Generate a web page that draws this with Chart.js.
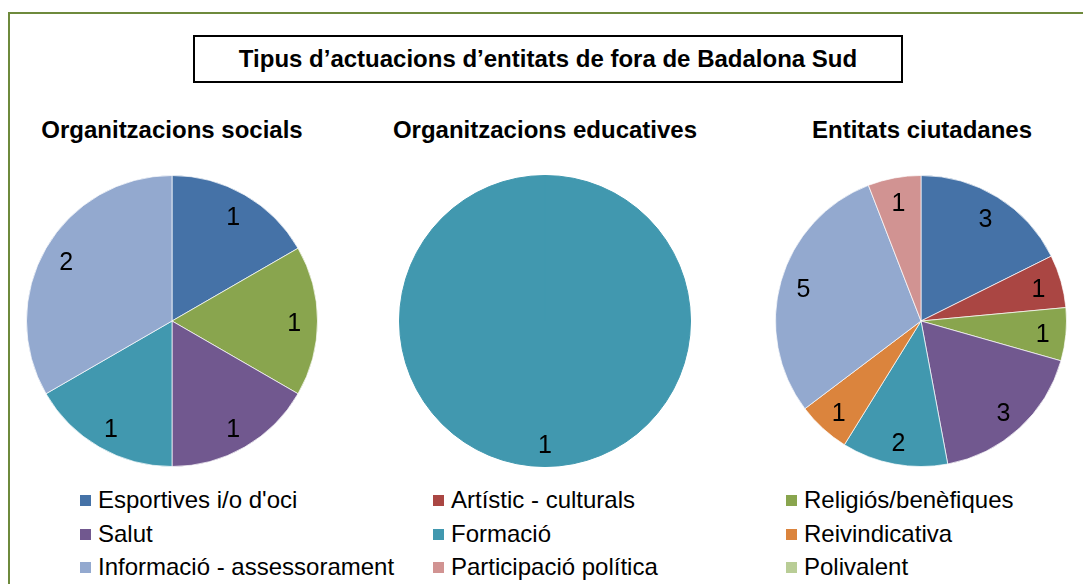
<!DOCTYPE html>
<html lang="ca">
<head>
<meta charset="UTF-8">
<title>Tipus d’actuacions d’entitats de fora de Badalona Sud</title>
<script src="https://cdn.jsdelivr.net/npm/chart.js"></script>
<style>
    body { margin: 0; background: #fff; font-family: "Liberation Sans", Arial, sans-serif; overflow: hidden; }
    #frame { position: absolute; left: 8px; top: 12px; width: 1100px; height: 600px; border: 2px solid #6e8a3c; }
    #title { position: absolute; left: 193px; top: 35px; width: 706px; height: 44px; border: 2px solid #000;
             font-weight: bold; font-size: 24px; text-align: center; line-height: 44px; }
    .sub { position: absolute; top: 115px; width: 400px; font-weight: bold; font-size: 24px; line-height: 30px; text-align: center; }
    .pie { position: absolute; top: 175px; width: 292px; height: 292px; }
    .leg { position: absolute; font-size: 24px; line-height: 28px; white-space: nowrap; }
    .leg span { display: inline-block; width: 11px; height: 11px; margin-right: 7px; vertical-align: 2px; }
</style>
</head>
<body>
<div id="frame"></div>
<div id="title">Tipus d’actuacions d’entitats de fora de Badalona Sud</div>
<div class="sub" style="left:-28px">Organitzacions socials</div>
<div class="sub" style="left:345px">Organitzacions educatives</div>
<div class="sub" style="left:722px">Entitats ciutadanes</div>
<div class="pie" style="left:26px"><canvas id="pie1"></canvas></div>
<div class="pie" style="left:399px"><canvas id="pie2"></canvas></div>
<div class="pie" style="left:775px"><canvas id="pie3"></canvas></div>
<div id="legend"></div>
<script>
    const categories = [
        "Esportives i/o d'oci", 'Artístic - culturals', 'Religiós/benèfiques',
        'Salut', 'Formació', 'Reivindicativa',
        'Informació - assessorament', 'Participació política', 'Polivalent'
    ];
    const colors = ['#4572a7', '#aa4643', '#89a54e', '#71588f', '#4198af', '#db843d', '#93a9cf', '#d19392', '#b9cd96'];

    const socials = [1, 0, 1, 1, 1, 0, 2, 0, 0];
    const educatives = [0, 0, 0, 0, 1, 0, 0, 0, 0];
    const ciutadanes = [3, 1, 1, 3, 2, 1, 5, 1, 0];

    // Value labels placed inside each slice, near the rim
    const sliceLabels = {
        id: 'sliceLabels',
        afterDatasetsDraw(chart) {
            const ctx = chart.ctx;
            const meta = chart.getDatasetMeta(0);
            const values = chart.data.datasets[0].data;
            ctx.save();
            ctx.font = '25px "Liberation Sans", Arial, sans-serif';
            ctx.fillStyle = '#000';
            ctx.textAlign = 'center';
            ctx.textBaseline = 'middle';
            meta.data.forEach((arc, i) => {
                if (!values[i]) return;
                const p = arc.getProps(['x', 'y', 'startAngle', 'endAngle', 'outerRadius'], true);
                const mid = (p.startAngle + p.endAngle) / 2;
                const r = p.outerRadius * 0.84;
                ctx.fillText(values[i], p.x + Math.cos(mid) * r, p.y + Math.sin(mid) * r + 3);
            });
            ctx.restore();
        }
    };

    function makePie(id, values) {
        // a pie with a single slice gets no visible seam
        const slices = values.filter(v => v > 0).length;
        new Chart(document.getElementById(id), {
            type: 'pie',
            data: {
                labels: categories,
                datasets: [{
                    data: values,
                    backgroundColor: colors,
                    borderColor: slices > 1 ? 'rgba(255,255,255,0.7)' : colors,
                    borderWidth: 1
                }]
            },
            options: {
                responsive: true,
                maintainAspectRatio: false,
                animation: false,
                layout: { padding: 0 },
                plugins: {
                    legend: { display: false },
                    tooltip: { enabled: false }
                }
            },
            plugins: [sliceLabels]
        });
    }

    makePie('pie1', socials);
    makePie('pie2', educatives);
    makePie('pie3', ciutadanes);

    // Legend: three columns, filled row by row
    const legendX = [80, 433, 786];
    const legendY = [486, 520, 553];
    const legend = document.getElementById('legend');
    categories.forEach((name, i) => {
        const item = document.createElement('div');
        item.className = 'leg';
        item.style.left = legendX[i % 3] + 'px';
        item.style.top = legendY[Math.floor(i / 3)] + 'px';
        item.innerHTML = '<span style="background:' + colors[i] + '"></span>' + name;
        legend.appendChild(item);
    });
</script>
</body>
</html>
